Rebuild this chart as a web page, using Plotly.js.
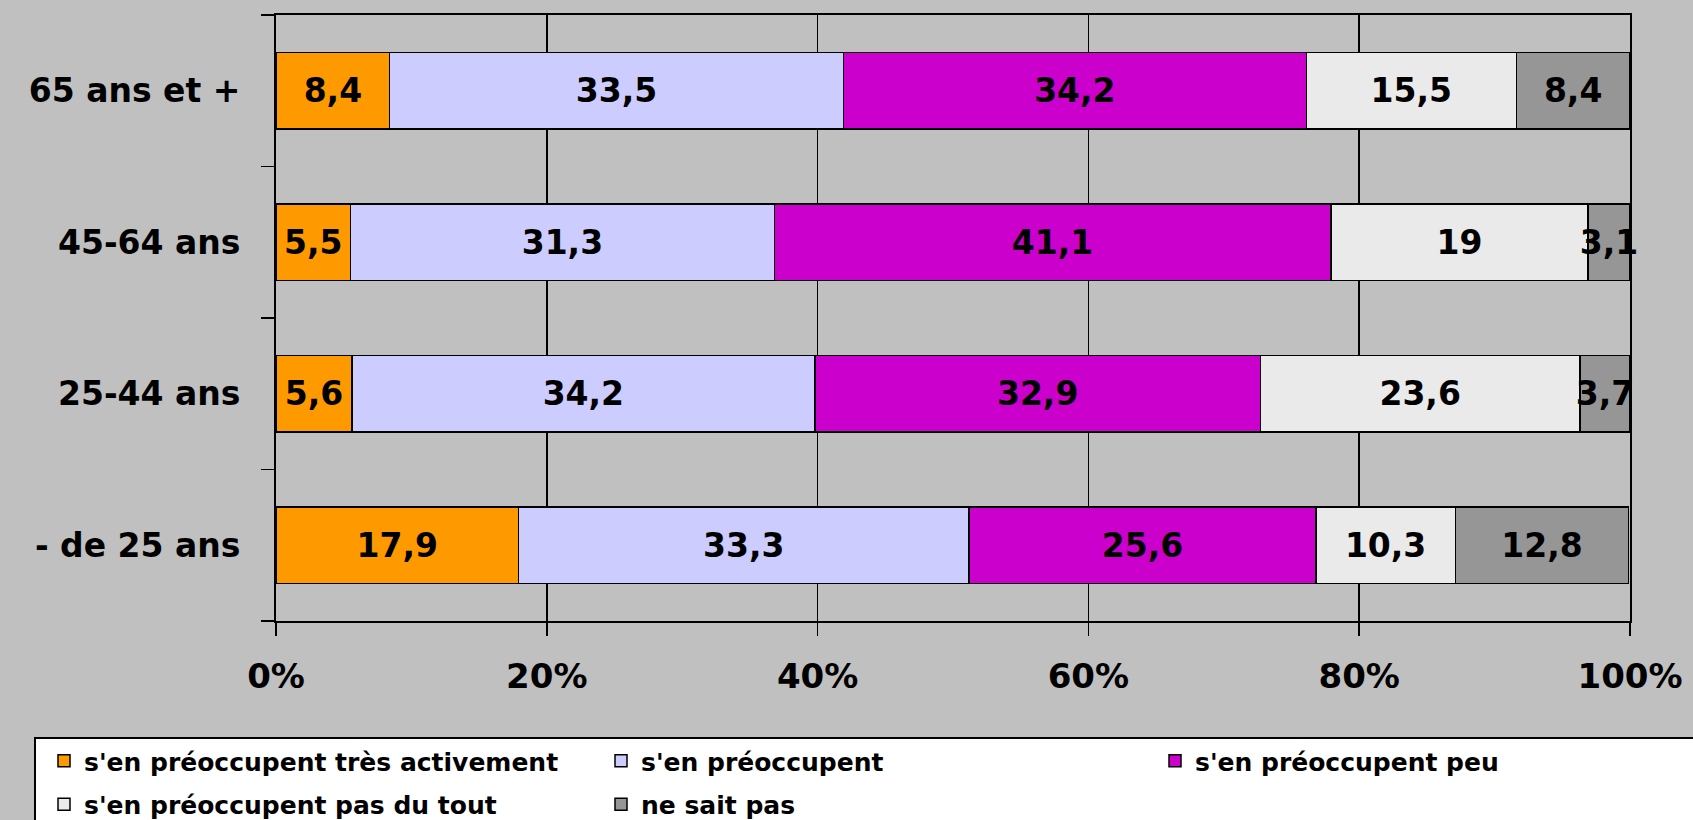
<!DOCTYPE html>
<html>
<head>
<meta charset="utf-8">
<script src="https://cdn.plot.ly/plotly-3.0.1.min.js"></script>
<style>html,body{margin:0;padding:0;background:#C0C0C0;}#chart{width:1693px;height:820px;}</style>
</head>
<body>
<div id="chart"></div>
<script>
// Categories (bottom to top)
const categories = ['- de 25 ans', '25-44 ans', '45-64 ans', '65 ans et +'];
// Series values (%) in category order
const tresActivement = [17.9, 5.6, 5.5, 8.4];
const preoccupent    = [33.3, 34.2, 31.3, 33.5];
const peu            = [25.6, 32.9, 41.1, 34.2];
const pasDuTout      = [10.3, 23.6, 19, 15.5];
const neSaitPas      = [12.8, 3.7, 3.1, 8.4];
const seriesNames = [
  "s'en préoccupent très activement",
  "s'en préoccupent",
  "s'en préoccupent peu",
  "s'en préoccupent pas du tout",
  "ne sait pas"
];
const xTickVals = [0, 20, 40, 60, 80, 100];

const seriesValues = [tresActivement, preoccupent, peu, pasDuTout, neSaitPas];
const colors = ['#FF9900', '#CCCCFF', '#CC00CC', '#EAEAEA', '#969696'];
// legend column for each series (Excel-like 3-column legend)
const legendOf = ['legend', 'legend2', 'legend3', 'legend', 'legend2'];
const fontFam = 'DejaVu Sans, Verdana, sans-serif';

const traces = seriesValues.map((vals, i) => ({
  type: 'bar',
  orientation: 'h',
  name: seriesNames[i],
  legend: legendOf[i],
  legendgroup: 'g' + i,
  y: categories,
  x: vals,
  text: vals.map(v => String(v).replace('.', ',')),
  textposition: 'inside',
  insidetextanchor: 'middle',
  textangle: 0,
  constraintext: 'none',
  cliponaxis: false,
  textfont: {family: fontFam, size: 33, color: '#000000', weight: 'bold'},
  marker: {color: colors[i], line: {color: '#000000', width: 1.5}},
  hoverinfo: 'x+y+name'
}));

// plot area in pixels: x 276..1630, y 15..621
const L = 276, W = 1354, T = 15, H = 606;
const px2x = p => (p - L) / W;
const px2y = p => (T + H - p) / H;

const legendBase = {
  orientation: 'v',
  traceorder: 'grouped',
  xanchor: 'left',
  yanchor: 'top',
  y: px2y(738),
  bgcolor: 'rgba(0,0,0,0)',
  borderwidth: 0,
  tracegroupgap: 8,
  itemwidth: 30,
  font: {family: fontFam, size: 25, color: '#000000', weight: 'bold'}
};

const layout = {
  width: 1693,
  height: 820,
  paper_bgcolor: '#C0C0C0',
  plot_bgcolor: '#C0C0C0',
  margin: {l: 276, r: 63, t: 15, b: 199, autoexpand: false},
  barmode: 'stack',
  bargap: 0.495,
  showlegend: true,
  font: {family: fontFam, color: '#000000'},
  xaxis: {
    range: [0, 100.001],
    tickvals: xTickVals,
    ticktext: xTickVals.map(v => v + '%'),
    showgrid: true,
    gridcolor: '#000000',
    gridwidth: 1.5,
    zeroline: false,
    showline: true,
    mirror: true,
    linecolor: '#000000',
    linewidth: 2,
    ticks: 'outside',
    ticklen: 13,
    tickwidth: 1.5,
    tickcolor: '#000000',
    ticklabelstandoff: 11,
    tickfont: {family: fontFam, size: 34, color: '#000000', weight: 'bold'},
    fixedrange: true
  },
  yaxis: {
    type: 'category',
    categoryorder: 'array',
    categoryarray: categories,
    showgrid: false,
    zeroline: false,
    showline: true,
    mirror: true,
    linecolor: '#000000',
    linewidth: 2,
    ticks: 'outside',
    tickson: 'boundaries',
    ticklen: 13,
    tickwidth: 1.5,
    tickcolor: '#000000',
    ticklabelstandoff: 27,
    tickfont: {family: fontFam, size: 33, color: '#000000', weight: 'bold'},
    fixedrange: true
  },
  legend:  Object.assign({}, legendBase, {x: px2x(44)}),
  legend2: Object.assign({}, legendBase, {x: px2x(601)}),
  legend3: Object.assign({}, legendBase, {x: px2x(1155)}),
  shapes: [{
    type: 'rect',
    xref: 'paper', yref: 'paper',
    x0: px2x(35), x1: px2x(1710),
    y0: px2y(738), y1: px2y(840),
    fillcolor: '#FFFFFF',
    line: {color: '#000000', width: 2},
    layer: 'above'
  }]
};

Plotly.newPlot('chart', traces, layout, {displayModeBar: false, staticPlot: true});
</script>
</body>
</html>
